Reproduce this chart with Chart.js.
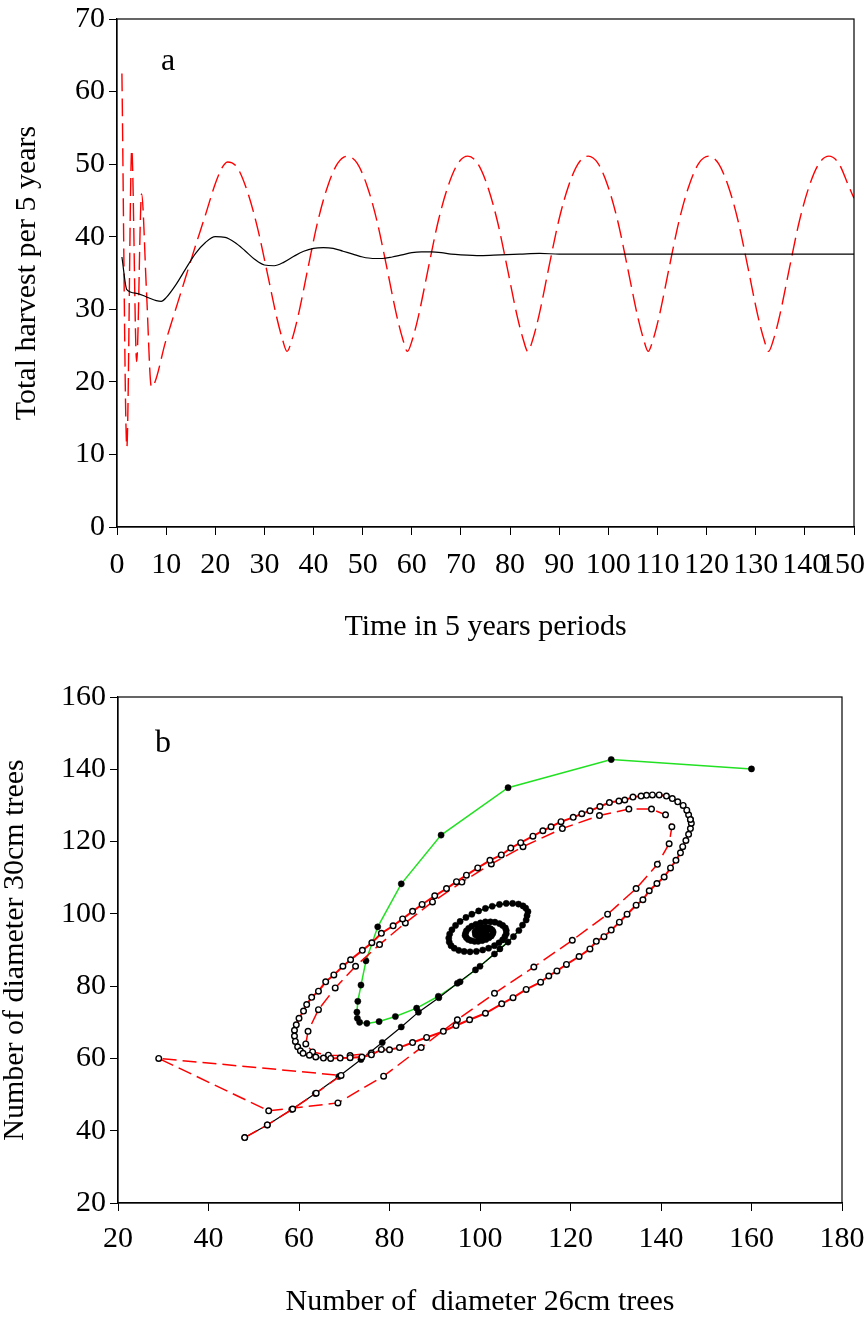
<!DOCTYPE html>
<html>
<head>
<meta charset="utf-8">
<script src="https://cdn.jsdelivr.net/npm/chart.js@4.4.1/dist/chart.umd.min.js"></script>
<style>
  html, body { margin: 0; padding: 0; background: #fff; }
  #wrap { position: relative; width: 868px; height: 1320px; }
  canvas { position: absolute; left: 0; }
  #harvestChart { top: 0; }
  #phaseChart { top: 660px; }
</style>
</head>
<body>
<div id="wrap">
  <canvas id="harvestChart" width="868" height="660"></canvas>
  <canvas id="phaseChart" width="868" height="660"></canvas>
</div>
<script>
// ---- panel a: total harvest per 5 years ----
const topXTicks = [0, 10, 20, 30, 40, 50, 60, 70, 80, 90, 100, 110, 120, 130, 140, 150];
const topYTicks = [0, 10, 20, 30, 40, 50, 60, 70];

const blackT = [1, 2, 4, 6, 8, 9, 10, 12, 14, 16, 18, 20, 22, 24, 26, 28, 30, 32, 34, 36, 38, 40, 42, 44, 46, 48, 50,
  52, 54, 56, 58, 60, 62, 64, 66, 68, 70, 74, 78, 82, 86, 90, 95, 100, 110, 120, 130, 140, 150];
const blackHarvest = [37.2, 32.7, 32.2, 31.7, 31.2, 31.1, 31.6, 33.4, 35.6, 37.7, 39.2, 40.0, 39.9, 39.2, 38.1, 36.9, 36.1, 36.0, 36.5, 37.3, 38.0, 38.4, 38.5, 38.4, 38.0, 37.6, 37.2,
  37.0, 37.0, 37.2, 37.5, 37.8, 37.9, 37.9, 37.8, 37.6, 37.5, 37.4, 37.5, 37.6, 37.7, 37.6, 37.6, 37.6, 37.6, 37.6, 37.6, 37.6, 37.6];

const redT = [1, 2, 3, 4, 5, 6, 7, 10, 13, 16, 18, 20, 21.3, 22.5, 24.5, 26.5, 28.5, 30.5, 32.5, 33.7, 34.6,
  35.6, 36.9, 38.9, 40.9, 42.9, 44.9, 46.9, 48.9, 50.9, 52.9, 54.9, 56.9, 58.2, 59.1,
  60.1, 61.4, 63.4, 65.4, 67.4, 69.4, 71.4, 73.4, 75.4, 77.4, 79.4, 81.4, 82.7, 83.6,
  84.6, 85.9, 87.9, 89.9, 91.9, 93.9, 95.9, 97.9, 99.9, 101.9, 103.9, 105.9, 107.2, 108.1,
  109.1, 110.4, 112.4, 114.4, 116.4, 118.4, 120.4, 122.4, 124.4, 126.4, 128.4, 130.4, 131.7, 132.6,
  133.6, 134.9, 136.9, 138.9, 140.9, 142.9, 144.9, 146.9, 148.9, 150];
const redHarvest = [62.5, 11.0, 52.0, 22.8, 45.9, 32.5, 19.3, 25.8, 32.3, 38.8, 43.0, 47.3, 49.4, 50.3, 49.5, 46.3, 41.5, 35.3, 28.9, 25.8, 24.2,
  25.8, 29.2, 35.8, 42.2, 47.0, 50.1, 51.1, 50.1, 47.0, 42.2, 35.8, 29.2, 25.8, 24.2,
  25.8, 29.2, 35.8, 42.2, 47.0, 50.1, 51.1, 50.1, 47.0, 42.2, 35.8, 29.2, 25.8, 24.2,
  25.8, 29.2, 35.8, 42.2, 47.0, 50.1, 51.1, 50.1, 47.0, 42.2, 35.8, 29.2, 25.8, 24.2,
  25.8, 29.2, 35.8, 42.2, 47.0, 50.1, 51.1, 50.1, 47.0, 42.2, 35.8, 29.2, 25.8, 24.2,
  25.8, 29.2, 35.8, 42.2, 47.0, 50.1, 51.1, 50.1, 47.0, 45.3];

// ---- panel b: phase plane (26cm trees vs 30cm trees) ----
const botXTicks = [20, 40, 60, 80, 100, 120, 140, 160, 180];
const botYTicks = [20, 40, 60, 80, 100, 120, 140, 160];

const greenX = [160, 129, 106.2, 91.4, 82.6, 77.4, 74.8, 73.7, 73, 72.8, 72.9, 73.4, 75, 77.7, 81.3, 86, 90.8, 95.6, 100, 104.4,
  107.4, 109.4, 110.4, 110.1, 108.5, 105.8, 102.7, 99.7, 96.9, 94.6, 93.3, 93.2, 94.3, 96.5, 99.2, 101.9, 104.2, 105.5, 105.8, 105,
  103.3, 101.2, 99.1, 97.5, 96.8, 97, 98, 99.6, 101.3, 102.5, 102.9, 102.3, 101.2, 100, 99.2, 99.1, 99.7, 100.6, 101.2, 101.2,
  100.6, 100, 99.8, 100.3, 100.6];
const greenY = [140.1, 142.7, 134.9, 121.8, 108.3, 96.4, 87, 80.3, 75.8, 72.8, 71.1, 70, 69.7, 70.2, 71.6, 73.9, 77.2, 81.2, 85.5, 90.3,
  93.7, 96.9, 99.5, 101.6, 102.7, 102.9, 102.1, 100.8, 99, 96.8, 94.4, 92.2, 90.5, 89.6, 89.6, 90.5, 92, 93.7, 95.4, 96.8,
  97.7, 97.8, 97.1, 96, 94.6, 93.4, 92.6, 92.4, 92.9, 93.9, 95, 95.9, 96.3, 96, 95.3, 94.4, 93.8, 93.8, 94.4, 95.1,
  95.5, 95.2, 94.6, 94.3, 94.8];

const blackX = [48, 53, 58.4, 63.6, 68.8, 73.7, 78.4, 82.6, 86.4, 90.9, 95, 99, 103.2, 106.2, 108.6, 110.2, 110.6, 109.5, 107.2, 104.3,
  101.2, 98.2, 95.6, 93.8, 93.1, 93.6, 95.3, 97.8, 100.6, 103.2, 105, 105.8, 105.6, 104.3, 102.3, 100.1, 98.2, 97, 96.7, 97.4,
  98.8, 100.5, 102, 102.8, 102.7, 101.8, 100.6, 99.5, 98.9, 99, 99.7, 100.6, 101.3, 101.4, 100.9, 100.2, 99.7, 99.7, 100.2, 100.7,
  100.6, 100.2];
const blackY = [38.1, 41.6, 45.9, 50.3, 55, 59.7, 64.4, 68.7, 72.8, 76.8, 80.8, 84.5, 88.9, 92.2, 95.4, 98.3, 100.6, 102.2, 102.9, 102.6,
  101.5, 99.9, 97.9, 95.6, 93.3, 91.2, 89.9, 89.5, 90, 91.2, 92.8, 94.5, 96.1, 97.3, 97.8, 97.5, 96.6, 95.3, 94, 92.9,
  92.4, 92.6, 93.4, 94.5, 95.5, 96.1, 96.2, 95.8, 95, 94.2, 93.7, 93.8, 94.3, 95, 95.4, 95.4, 95, 94.5, 94.2, 94.5,
  94.9, 94.9];

const redStartX = [48, 53, 58.6, 63.8, 69.3, 29, 53.3, 68.6, 78.7, 87, 95, 103.2, 111.9, 120.4, 128.2, 134.5, 139.2, 141.8, 142.4, 141,
  137.9, 132.9, 126.4, 118.2, 109.5, 102.5, 96, 89.5, 83.5, 77.8, 72.5, 68, 64.3, 62, 61.5, 63, 66.5, 71.3, 76];
const redStartY = [38.1, 41.6, 46, 50.4, 55.3, 60, 45.5, 47.7, 55.1, 63, 70.7, 78, 85.3, 92.7, 99.9, 107, 113.7, 119.4, 124.1, 127.4,
  129, 129, 127.2, 123.6, 118.6, 113.8, 108.8, 103.3, 97.5, 91.5, 85.5, 79.5, 73.5, 67.5, 64, 61.8, 60.9, 60.8, 61.5];

const cycleX = [146.5, 146.1, 145.7, 144.9, 143.7, 142.5, 141.2, 139.6, 138.1, 136.8, 135.6, 133.8, 132, 130.7, 128.6, 126.5, 124.3, 122.5, 120.6, 117.9,
  115.7, 113.9, 111.7, 109, 106.8, 104.7, 102.2, 99.5, 97, 94.8, 92.6, 90, 87.2, 85.1, 82.9, 80.8, 78.2, 76.1, 74, 71.4,
  69.7, 67.7, 65.9, 64.3, 62.8, 61.7, 61, 60, 59.4, 59, 59, 59.2, 59.7, 60.3, 60.9, 62.3, 63.7, 65.4, 67, 69.1,
  71.3, 73.9, 76, 78.2, 80, 82.2, 85.1, 88.2, 91.9, 94.7, 97.7, 101.2, 104.8, 107.3, 110.2, 113.4, 115.2, 117, 119.1, 121.9,
  124.3, 125.7, 127.4, 129, 130.8, 132.5, 134.5, 136, 137.4, 139.1, 140.7, 142.1, 143.3, 144.3, 144.8, 145.5, 146.1, 146.5, 146.7, 146.5];
const cycleY = [126.1, 127.4, 128.7, 130, 131, 131.9, 132.6, 132.9, 132.9, 132.8, 132.6, 132.3, 131.5, 131.2, 130.8, 129.7, 128.5, 127.7, 126.7, 125.5,
  124.1, 123, 121.5, 119.7, 118.2, 116.3, 114.8, 112.7, 110.7, 108.9, 107, 105, 102.6, 100.7, 98.6, 96.7, 94.6, 92, 89.9, 87.3,
  85.5, 83.1, 81.2, 78.6, 76.9, 74.9, 73.1, 71.1, 69.3, 67.8, 66.2, 64.7, 63.2, 62.1, 61.4, 60.9, 60.4, 60.1, 60, 60.1,
  60.2, 60.4, 61, 62.5, 62.4, 63, 64.4, 65.8, 67.5, 69.1, 70.7, 72.5, 75.1, 76.8, 79.1, 81.1, 82.8, 84.2, 86, 88.2,
  90.3, 92.4, 93.7, 95.5, 97.7, 99.9, 102.4, 103.9, 106.4, 108.4, 110.2, 112.7, 114.8, 116.9, 118.6, 120.3, 122, 123.6, 125.1, 126.1];

Chart.defaults.font.family = '"Liberation Serif", "Times New Roman", serif';
Chart.defaults.color = '#000';

function pairs(xs, ys) {
    return xs.map((x, i) => ({ x: x, y: ys[i] }));
}

function makeAxis(tickValues, label, fitSize, tickPad, titlePad) {
    return {
        type: 'linear',
        min: tickValues[0],
        max: tickValues[tickValues.length - 1],
        afterBuildTicks: s => { s.ticks = tickValues.map(v => ({ value: v })); },
        afterFit: s => {
            // fixed axis sizes so the plot area lands where the original has it
            if (s.isHorizontal()) { s.height = fitSize; s.paddingLeft = 0; s.paddingRight = 0; }
            else { s.width = fitSize; s.paddingTop = 0; s.paddingBottom = 0; }
        },
        grid: { drawOnChartArea: false, drawTicks: true, tickLength: 8, color: '#000', lineWidth: 1 },
        border: { display: true, color: '#000', width: 1.2 },
        ticks: { color: '#000', padding: tickPad, autoSkip: false, maxRotation: 0, font: { size: 30 } },
        title: { display: true, text: label, color: '#000', font: { size: 30, lineHeight: 1 }, padding: titlePad }
    };
}

// box around plot area + panel letter
function framePlugin(letter, dx, dy, pullLastLabel) {
    return {
        id: 'frame_' + letter,
        beforeDraw(chart) {
            if (!pullLastLabel) return;
            // last x label sits left of its tick so it stays inside the page
            const items = chart.scales.x.getLabelItems();
            const last = items[items.length - 1];
            if (last) {
                last.options.textAlign = 'right';
                last.options.translation[0] = chart.width - 3;
            }
        },
        afterDraw(chart) {
            const { ctx, chartArea: a } = chart;
            ctx.save();
            ctx.strokeStyle = '#000';
            ctx.lineWidth = 1.2;
            ctx.strokeRect(a.left, a.top, a.right - a.left, a.bottom - a.top);
            ctx.fillStyle = '#000';
            ctx.font = '32px "Liberation Serif", serif';
            ctx.textAlign = 'center';
            ctx.textBaseline = 'alphabetic';
            ctx.fillText(letter, a.left + dx, a.top + dy);
            ctx.restore();
        }
    };
}

const harvestCtx = document.getElementById('harvestChart');
new Chart(harvestCtx.getContext('2d'), {
    type: 'line',
    data: {
        datasets: [{
            label: 'black',
            data: pairs(blackT, blackHarvest),
            borderColor: '#000',
            borderWidth: 1.2,
            pointRadius: 0,
            cubicInterpolationMode: 'monotone',
            order: 1
        }, {
            label: 'red',
            data: pairs(redT, redHarvest),
            borderColor: '#ff0000',
            borderWidth: 1.4,
            borderDash: [18, 7],
            pointRadius: 0,
            cubicInterpolationMode: 'monotone',
            order: 2
        }]
    },
    options: {
        responsive: false,
        animation: false,
        devicePixelRatio: 1,
        layout: { autoPadding: false, padding: { left: 0, top: 19, right: 14, bottom: 13 } },
        plugins: { legend: { display: false }, tooltip: { enabled: false } },
        scales: {
            x: makeAxis(topXTicks, 'Time in 5 years periods', 120, 12, { top: 0, bottom: 5 }),
            y: makeAxis(topYTicks, 'Total harvest per 5 years', 117, 4, { top: 12, bottom: 0 })
        }
    },
    plugins: [framePlugin('a', 51, 51, true)]
});

const openCircle = { pointRadius: 2.8, pointBackgroundColor: '#fff', pointBorderColor: '#000', pointBorderWidth: 1.4 };
const filledDot = { pointRadius: 3.1, pointBackgroundColor: '#000', pointBorderColor: '#000', pointBorderWidth: 0.5 };

const phaseCtx = document.getElementById('phaseChart');
new Chart(phaseCtx.getContext('2d'), {
    type: 'scatter',
    data: {
        datasets: [
            Object.assign({ data: pairs(cycleX, cycleY), showLine: true, borderColor: '#ff0000', borderWidth: 2, order: 1 }, openCircle),
            Object.assign({ data: pairs(redStartX, redStartY), showLine: true, borderColor: '#ff0000', borderWidth: 1.5, borderDash: [14, 6], order: 2 }, openCircle),
            Object.assign({ data: pairs(blackX, blackY), showLine: true, borderColor: '#000', borderWidth: 1.2, order: 3 }, filledDot),
            Object.assign({ data: pairs(greenX, greenY), showLine: true, borderColor: '#22e022', borderWidth: 1.5, order: 4 }, filledDot)
        ]
    },
    options: {
        responsive: false,
        animation: false,
        devicePixelRatio: 1,
        layout: { autoPadding: false, padding: { left: 0, top: 37, right: 26, bottom: 0 } },
        plugins: { legend: { display: false }, tooltip: { enabled: false } },
        scales: {
            x: makeAxis(botXTicks, 'Number of  diameter 26cm trees', 117, 10, { top: 0, bottom: 3 }),
            y: makeAxis(botYTicks, 'Number of diameter 30cm trees', 118, 4, { top: 0, bottom: 0 })
        }
    },
    plugins: [framePlugin('b', 45, 55, false)]
});
</script>
</body>
</html>
